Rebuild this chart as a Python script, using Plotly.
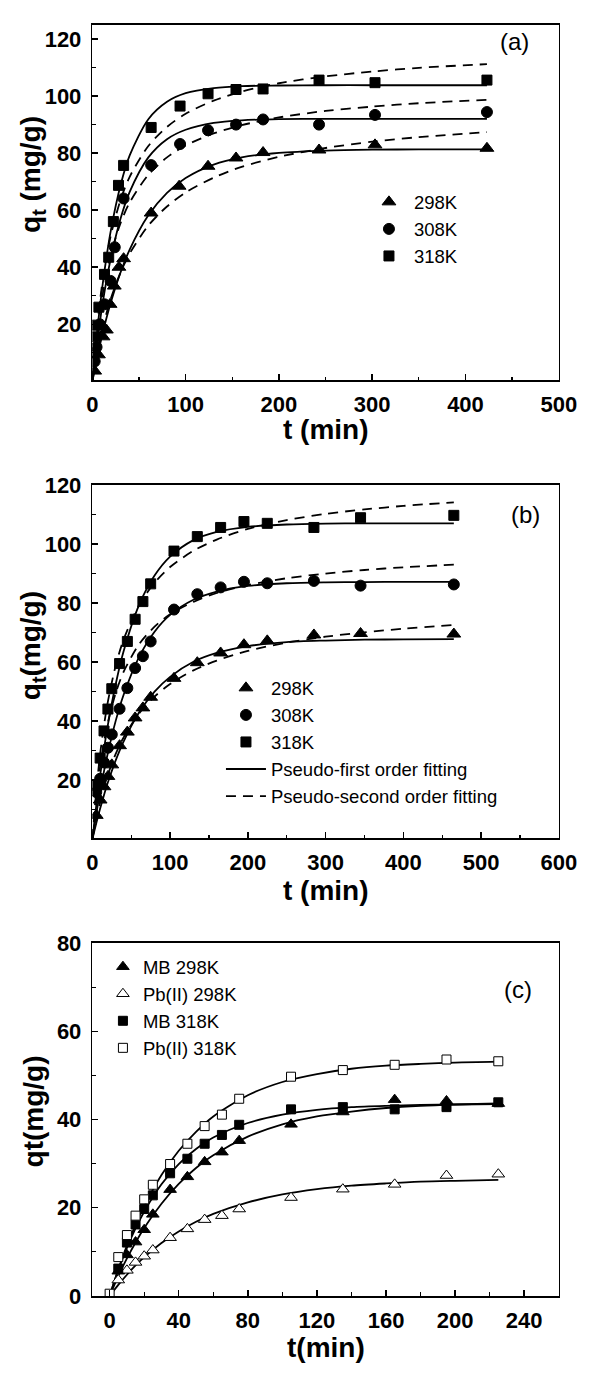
import plotly.graph_objects as go

W, H = 595, 1375

# ---------------- Panel (a) data ----------------
t_a_298 = [2.5, 6.5, 11.5, 15, 19, 23.5, 28.5, 33.5, 63, 93, 124, 154, 183, 243, 303, 423]
q_a_298 = [3.6, 9.3, 15.6, 18, 27, 33.4, 40, 43, 59, 68.4, 75.4, 78.3, 80.2, 81.1, 82.9, 81.7]
t_a_308 = [2.5, 4.5, 8, 13, 19.5, 24, 33.5, 63, 94, 124, 154, 183, 243, 303, 423]
q_a_308 = [7, 12, 20, 27, 35.2, 47, 64.1, 75.8, 83.2, 88, 90, 91.8, 90, 93.4, 94.4]
t_a_318 = [1, 3.5, 5, 7, 13, 17.5, 22.5, 28, 33.5, 63, 94, 124, 154, 183, 243, 303, 423]
q_a_318 = [10, 15.6, 19.7, 26, 37.5, 43.5, 56, 68.7, 75.7, 89, 96.5, 100.8, 102.3, 102.5, 105.6, 104.7, 105.6]

t_a_fit = [0, 5, 10, 15, 20, 30, 40, 60, 80, 100, 130, 160, 200, 250, 300, 350, 423]
pfo_a_318 = [0, 17.1, 31.4, 43.3, 53.3, 68.5, 79.2, 91.9, 98.0, 101.0, 102.8, 103.5, 103.7, 103.8, 103.8, 103.8, 103.8]
pfo_a_308 = [0, 13.6, 25.2, 35.1, 43.5, 56.8, 66.4, 78.5, 84.9, 88.2, 90.6, 91.5, 91.9, 92.0, 92.0, 92.0, 92.0]
pfo_a_298 = [0, 8.1, 15.4, 22.0, 27.9, 38.0, 46.2, 58.2, 66.1, 71.3, 76.0, 78.5, 80.1, 80.9, 81.2, 81.3, 81.3]
pso_a_318 = [0, 19.1, 32.9, 43.3, 51.5, 63.4, 71.7, 82.5, 89.2, 93.8, 98.4, 101.6, 104.5, 106.9, 108.6, 109.9, 111.2]
pso_a_308 = [0, 16.4, 28.4, 37.5, 44.7, 55.3, 62.7, 72.4, 78.5, 82.7, 86.9, 89.8, 92.5, 94.8, 96.3, 97.5, 98.7]
pso_a_298 = [0, 9.4, 17.2, 23.7, 29.2, 38.0, 44.8, 54.6, 61.3, 66.2, 71.4, 75.2, 78.7, 81.8, 84.0, 85.6, 87.4]

# ---------------- Panel (b) data ----------------
t_b = [5, 10, 15, 20, 25, 35, 45, 55, 65, 75, 105, 135, 165, 195, 225, 285, 345, 465]
q_b_298 = [8.1, 13.3, 17.8, 21.3, 25.2, 31.7, 36.3, 41.1, 44.5, 48.1, 54.5, 59.8, 63.1, 65.9, 67.2, 69.2, 69.7, 69.5]
q_b_308 = [16, 20.5, 26, 31, 35.5, 44.2, 51.2, 58, 62, 67, 77.8, 83, 85.3, 87.2, 86.7, 87.5, 85.9, 86.3]
q_b_318 = [18.3, 27.5, 36.7, 44.1, 51, 59.5, 67, 74.5, 80.5, 86.5, 97.6, 102.5, 105.6, 107.6, 107, 105.6, 108.9, 109.7]

t_b_fit = [0, 5, 10, 15, 20, 30, 40, 60, 80, 100, 130, 160, 200, 250, 300, 350, 400, 465]
pfo_b_318 = [0, 11.4, 21.6, 30.6, 38.8, 52.5, 63.5, 79.3, 89.3, 95.7, 101.3, 104.1, 105.8, 106.6, 106.9, 107.0, 107.0, 107.0]
pfo_b_308 = [0, 8.5, 16.2, 23.1, 29.3, 40.1, 48.8, 61.7, 70.3, 76.0, 81.1, 83.9, 85.8, 86.7, 87.0, 87.1, 87.2, 87.2]
pfo_b_298 = [0, 5.4, 10.4, 15.0, 19.3, 26.7, 33.0, 42.9, 50.0, 55.0, 60.1, 63.1, 65.4, 66.8, 67.3, 67.6, 67.7, 67.8]
pso_b_318 = [0, 16.4, 28.9, 38.7, 46.7, 58.8, 67.5, 79.3, 86.9, 92.2, 97.7, 101.5, 105.1, 108.1, 110.2, 111.7, 112.9, 114.1]
pso_b_308 = [0, 14.1, 24.7, 33.0, 39.6, 49.5, 56.6, 66.0, 72.0, 76.2, 80.4, 83.4, 86.1, 88.4, 90.0, 91.2, 92.1, 93.0]
pso_b_298 = [0, 6.9, 12.6, 17.6, 21.9, 28.9, 34.4, 42.6, 48.3, 52.6, 57.2, 60.5, 63.8, 66.6, 68.6, 70.1, 71.3, 72.6]

# ---------------- Panel (c) data ----------------
t_c = [5, 10, 15, 20, 25, 35, 45, 55, 65, 75, 105, 135, 165, 195, 225]
q_c_mb298 = [5.6, 9.3, 12.2, 15, 18.5, 24.1, 27, 30.4, 32.6, 35.2, 38.9, 41.7, 44.5, 44.2, 43.6]
q_c_pb298 = [3.6, 5.8, 7.6, 9, 10.4, 13.2, 15.2, 17.3, 18.2, 19.7, 22.3, 24.2, 25.3, 27.3, 27.6]
q_c_mb318 = [6.2, 12.1, 16.2, 19.7, 22.8, 27.8, 31.1, 34.5, 36.5, 38.8, 42.3, 42.8, 42.3, 42.8, 43.9]
t_c_pb318 = [0, 5, 10, 15, 20, 25, 35, 45, 55, 65, 75, 105, 135, 165, 195, 225]
q_c_pb318 = [0.5, 8.8, 13.8, 18.2, 21.9, 25.2, 29.9, 34.5, 38.5, 41.1, 44.7, 49.7, 51.2, 52.4, 53.6, 53.2]

t_c_fit = [0, 5, 10, 15, 20, 30, 40, 50, 60, 80, 100, 120, 140, 160, 180, 200, 225]
fit_c_pb318 = [0, 6.0, 11.4, 16.1, 20.3, 27.4, 32.9, 37.2, 40.7, 45.5, 48.5, 50.3, 51.5, 52.2, 52.6, 52.9, 53.1]
fit_c_mb318 = [0, 5.9, 10.9, 15.3, 19.1, 25.3, 29.9, 33.3, 35.9, 39.2, 41.1, 42.2, 42.8, 43.1, 43.3, 43.4, 43.5]
fit_c_mb298 = [0, 4.5, 8.5, 12.1, 15.4, 20.9, 25.4, 29.0, 31.9, 36.1, 38.9, 40.7, 41.8, 42.6, 43.1, 43.4, 43.65]
fit_c_pb298 = [0, 2.5, 4.8, 6.9, 8.8, 12.0, 14.6, 16.8, 18.6, 21.2, 23.0, 24.2, 25.0, 25.5, 25.9, 26.1, 26.3]

FONT = "Liberation Sans, Arial, sans-serif"
BLACK = "#000000"
LW = 1.8
DASH = "10px,7px"


def px_x(p):
    return p / W


def px_y(p):
    return 1 - p / H


fig = go.Figure()


def line(x, y, xa, ya, dash="solid", name=None, legend=None, show=False, rank=None):
    fig.add_trace(go.Scatter(
        x=x, y=y, mode="lines", xaxis=xa, yaxis=ya,
        line=dict(color=BLACK, width=LW, dash=dash, shape="spline", smoothing=0.8),
        name=name, showlegend=show, legend=legend, legendrank=rank,
        hoverinfo="skip"))


def pts(x, y, xa, ya, symbol, name, legend, size=11, fill=BLACK, rank=None):
    fig.add_trace(go.Scatter(
        x=x, y=y, mode="markers", xaxis=xa, yaxis=ya, name=name,
        marker=dict(symbol=symbol, size=size, color=fill,
                    line=dict(color=BLACK, width=1)),
        showlegend=True, legend=legend, legendrank=rank))


# Panel (a)
for yy in (pfo_a_298, pfo_a_308, pfo_a_318):
    line(t_a_fit, yy, "x", "y")
for yy in (pso_a_298, pso_a_308, pso_a_318):
    line(t_a_fit, yy, "x", "y", dash=DASH)
pts(t_a_298, q_a_298, "x", "y", "triangle-up", "298K", "legend", size=12, rank=1)
pts(t_a_308, q_a_308, "x", "y", "circle", "308K", "legend", size=11, rank=2)
pts(t_a_318, q_a_318, "x", "y", "square", "318K", "legend", size=10, rank=3)

# Panel (b)
line(t_b_fit, pfo_b_298, "x2", "y2", name="Pseudo-first order fitting", legend="legend2", show=True, rank=4)
line(t_b_fit, pfo_b_308, "x2", "y2")
line(t_b_fit, pfo_b_318, "x2", "y2")
line(t_b_fit, pso_b_298, "x2", "y2", dash=DASH, name="Pseudo-second order fitting", legend="legend2", show=True, rank=5)
line(t_b_fit, pso_b_308, "x2", "y2", dash=DASH)
line(t_b_fit, pso_b_318, "x2", "y2", dash=DASH)
pts(t_b, q_b_298, "x2", "y2", "triangle-up", "298K", "legend2", size=12, rank=1)
pts(t_b, q_b_308, "x2", "y2", "circle", "308K", "legend2", size=11, rank=2)
pts(t_b, q_b_318, "x2", "y2", "square", "318K", "legend2", size=10, rank=3)

# Panel (c)
for yy in (fit_c_pb318, fit_c_mb318, fit_c_mb298, fit_c_pb298):
    line(t_c_fit, yy, "x3", "y3")
pts(t_c, q_c_mb298, "x3", "y3", "triangle-up", "MB 298K", "legend3", size=11, rank=1)
pts(t_c, q_c_pb298, "x3", "y3", "triangle-up", "Pb(II) 298K", "legend3", size=11, fill="white", rank=2)
pts(t_c, q_c_mb318, "x3", "y3", "square", "MB 318K", "legend3", size=9, rank=3)
pts(t_c_pb318, q_c_pb318, "x3", "y3", "square", "Pb(II) 318K", "legend3", size=9, fill="white", rank=4)

XDOM = [px_x(90), px_x(576)]
tickfont = dict(family=FONT, size=22, color=BLACK, weight="bold")


def axis(rng, dtick, minor, dom, anchor, standoff):
    return dict(range=rng, dtick=dtick, tick0=0, domain=dom, anchor=anchor,
                showline=True, linecolor=BLACK, linewidth=1.6, mirror=True,
                ticks="inside", ticklen=6, tickwidth=1.5, tickcolor=BLACK,
                minor=dict(dtick=minor, ticks="inside", ticklen=3.5, tickwidth=1.3, tickcolor=BLACK),
                showgrid=False, zeroline=False, tickfont=tickfont, fixedrange=True,
                ticklabeloverflow="allow", ticklabelstandoff=standoff)


legfont = dict(family=FONT, size=18.5, color=BLACK)


def leg(xp, yp, itemwidth=30):
    return dict(x=px_x(xp), y=px_y(yp), xanchor="left", yanchor="top",
                bgcolor="rgba(0,0,0,0)", borderwidth=0, font=legfont,
                itemwidth=itemwidth, traceorder="normal", tracegroupgap=0)


ann = []


def title(text, xp, yp, angle=0, size=28):
    ann.append(dict(text=text, x=px_x(xp), y=px_y(yp), xref="paper", yref="paper",
                    showarrow=False, textangle=angle, xanchor="center", yanchor="middle",
                    font=dict(family=FONT, size=size, color=BLACK, weight="bold")))


def label(text, xp, yp):
    ann.append(dict(text=text, x=px_x(xp), y=px_y(yp), xref="paper", yref="paper",
                    showarrow=False, xanchor="center", yanchor="middle",
                    font=dict(family=FONT, size=24, color=BLACK)))


title("t (min)", 333, 425)
title("q<sub>t</sub> (mg/g)", 27, 165, angle=-90)
title("t (min)", 333, 895)
title("q<sub>t</sub>(mg/g)", 27, 645, angle=-90)
title("t(min)", 333, 1360)
title("qt(mg/g)", 29, 1120, angle=-90)
label("(a)", 530, 30)
label("(b)", 541, 512)
label("(c)", 534, 996)

fig.update_layout(
    width=W, height=H, autosize=False,
    margin=dict(l=0, r=0, t=0, b=0),
    paper_bgcolor="white", plot_bgcolor="white",
    font=dict(family=FONT, color=BLACK),
    xaxis=axis([0, 500], 100, 50, XDOM, "y", 4),
    yaxis=axis([0.3, 125], 20, 10, [px_y(375.3), px_y(13)], "x", 5),
    xaxis2=axis([0, 600], 100, 50, XDOM, "y2", 4),
    yaxis2=axis([0.3, 120], 20, 10, [px_y(841.7), px_y(481.7)], "x2", 5),
    xaxis3=axis([-10, 260], 40, 20, XDOM, "y3", 4),
    yaxis3=axis([0, 80], 20, 10, [px_y(1307.7), px_y(948.3)], "x3", 5),
    legend=leg(373, 174.5, itemwidth=40),
    legend2=leg(224, 669.5, itemwidth=40),
    legend3=leg(101, 953.5),
    annotations=ann,
    showlegend=True,
)

fig.write_html("out.html",
               config={"displayModeBar": False, "staticPlot": True},
               post_script="document.body.style.margin='0';document.body.style.overflow='hidden';")
